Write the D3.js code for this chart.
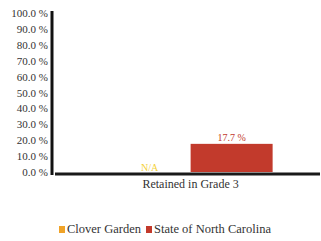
<!DOCTYPE html>
<html lang="en">
<head>
  <meta charset="utf-8">
  <script src="https://d3js.org/d3.v7.min.js"></script>
  <style>
    body { margin: 0; background: #fff; }
    text { font-family: "Liberation Serif", "DejaVu Serif", serif; }
  </style>
</head>
<body>
  <svg width="321" height="241"></svg>
  <script>
    // data
    var categories = ["Retained in Grade 3"];
    var seriesNames = ["Clover Garden", "State of North Carolina"];
    var seriesColors = ["#f0a328", "#c23a2c"];
    var cloverGarden = [null];        // N/A
    var northCarolina = [17.7];
    var yTicks = [0, 10, 20, 30, 40, 50, 60, 70, 80, 90, 100];

    var svg = d3.select("svg");
    var plotLeft = 53, plotRight = 320, plotTop = 13, plotBottom = 172;

    var x0 = d3.scaleBand().domain(categories).range([plotLeft, plotRight])
      .paddingInner(0).paddingOuter(0.314).align(0.54);
    var x1 = d3.scaleBand().domain(seriesNames).range([0, x0.bandwidth()]).padding(0);
    var y = d3.scaleLinear().domain([0, 100]).range([plotBottom, plotTop]);

    // y axis labels
    var yAxis = svg.append("g")
      .attr("transform", "translate(" + (plotLeft - 3) + ",0)")
      .call(d3.axisLeft(y).tickValues(yTicks).tickSize(0).tickPadding(2)
        .tickFormat(function(d) { return d.toFixed(1) + " %"; }));
    yAxis.select(".domain").remove();
    yAxis.selectAll("text")
      .attr("font-size", "11px")
      .attr("fill", "#333")
      .style("font-family", "'Liberation Serif', serif");

    // bars
    var series = [cloverGarden, northCarolina];
    categories.forEach(function(cat, ci) {
      series.forEach(function(vals, si) {
        var v = vals[ci];
        var cx = x0(cat) + x1(seriesNames[si]);
        if (v === null) {
          svg.append("text")
            .attr("x", cx + x1.bandwidth() / 2)
            .attr("y", plotBottom - 1)
            .attr("text-anchor", "middle")
            .attr("font-size", "10px")
            .attr("fill", "#f3d13c")
            .text("N/A");
        } else {
          svg.append("rect")
            .attr("x", cx)
            .attr("y", y(v))
            .attr("width", x1.bandwidth())
            .attr("height", plotBottom - y(v))
            .attr("fill", seriesColors[si]);
          svg.append("text")
            .attr("x", cx + x1.bandwidth() / 2)
            .attr("y", y(v) - 3)
            .attr("text-anchor", "middle")
            .attr("font-size", "10px")
            .attr("fill", seriesColors[si])
            .text(v.toFixed(1) + " %");
        }
      });
    });

    // axis lines
    svg.append("line")
      .attr("x1", plotLeft - 1).attr("x2", plotLeft - 1)
      .attr("y1", plotTop - 2).attr("y2", plotBottom + 3)
      .attr("stroke", "#111").attr("stroke-width", 3);
    svg.append("line")
      .attr("x1", plotLeft + 2).attr("x2", plotRight)
      .attr("y1", plotBottom + 2).attr("y2", plotBottom + 2)
      .attr("stroke", "#1a1a1a").attr("stroke-width", 3);

    // category labels
    categories.forEach(function(cat) {
      svg.append("text")
        .attr("x", x0(cat) + x0.bandwidth() / 2)
        .attr("y", plotBottom + 16)
        .attr("text-anchor", "middle")
        .attr("font-size", "12px")
        .attr("fill", "#333")
        .text(cat);
    });

    // legend
    var legendX = [59, 146];
    seriesNames.forEach(function(name, i) {
      var g = svg.append("g").attr("transform", "translate(" + legendX[i] + ",226)");
      g.append("rect").attr("width", 6).attr("height", 7).attr("fill", seriesColors[i]);
      g.append("text")
        .attr("x", 8)
        .attr("y", 7)
        .attr("font-size", "12.5px")
        .attr("fill", "#333")
        .text(name);
    });
  </script>
</body>
</html>
